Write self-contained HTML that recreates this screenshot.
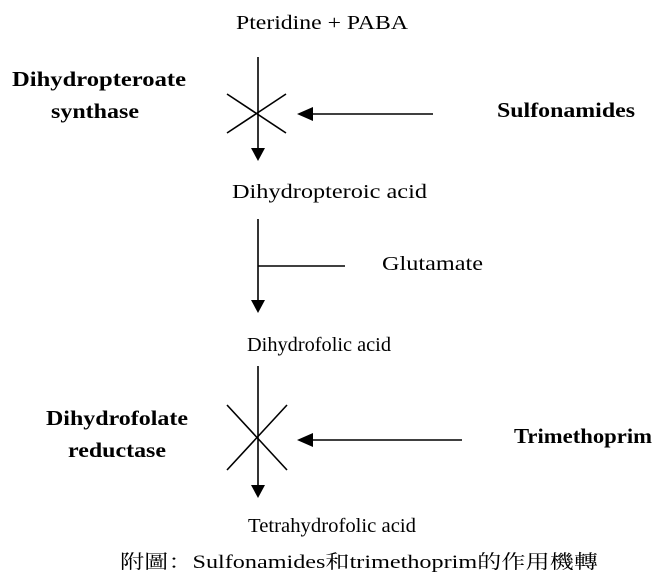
<!DOCTYPE html>
<html><head><meta charset="utf-8"><style>
html,body{margin:0;padding:0;background:#fff;}
svg{display:block;}
.r{font-family:"Liberation Serif",serif;font-size:20px;fill:#000;}
.b{font-family:"Liberation Serif",serif;font-size:21px;font-weight:bold;fill:#000;}
.c{font-family:"Liberation Serif","Noto Serif CJK SC",serif;font-size:19px;fill:#000;}
</style></head><body>
<svg width="670" height="580" viewBox="0 0 670 580" xmlns="http://www.w3.org/2000/svg">
<g stroke="#000" stroke-width="1.6" fill="none">
<line x1="258" y1="57" x2="258" y2="150"/>
<line x1="227" y1="94" x2="286" y2="133"/>
<line x1="227" y1="133" x2="286" y2="94"/>
<line x1="310" y1="114" x2="433" y2="114"/>
<line x1="258" y1="219" x2="258" y2="302"/>
<line x1="258" y1="266" x2="345" y2="266"/>
<line x1="258" y1="366" x2="258" y2="487"/>
<line x1="227" y1="405" x2="287" y2="470"/>
<line x1="227" y1="470" x2="287" y2="405"/>
<line x1="310" y1="440" x2="462" y2="440"/>
</g>
<g fill="#000">
<polygon points="251,148 265,148 258,161"/>
<polygon points="297,114 313,107 313,121"/>
<polygon points="251,300 265,300 258,313"/>
<polygon points="251,485 265,485 258,498"/>
<polygon points="297,440 313,433 313,447"/>
</g>
<text class="r" x="236" y="29" textLength="172" lengthAdjust="spacingAndGlyphs">Pteridine + PABA</text>
<text class="r" x="232" y="198" textLength="195" lengthAdjust="spacingAndGlyphs">Dihydropteroic acid</text>
<text class="r" x="382" y="270" textLength="101" lengthAdjust="spacingAndGlyphs">Glutamate</text>
<text class="r" x="247" y="351" textLength="144" lengthAdjust="spacingAndGlyphs">Dihydrofolic acid</text>
<text class="r" x="248" y="532" textLength="168" lengthAdjust="spacingAndGlyphs">Tetrahydrofolic acid</text>
<text class="b" x="12" y="86" textLength="174" lengthAdjust="spacingAndGlyphs">Dihydropteroate</text>
<text class="b" x="51" y="118" textLength="88" lengthAdjust="spacingAndGlyphs">synthase</text>
<text class="b" x="497" y="117" textLength="138" lengthAdjust="spacingAndGlyphs">Sulfonamides</text>
<text class="b" x="46" y="425" textLength="142" lengthAdjust="spacingAndGlyphs">Dihydrofolate</text>
<text class="b" x="68" y="457" textLength="98" lengthAdjust="spacingAndGlyphs">reductase</text>
<text class="b" x="514" y="443" textLength="138" lengthAdjust="spacingAndGlyphs">Trimethoprim</text>
<text class="c" x="120" y="568" textLength="478" lengthAdjust="spacingAndGlyphs">附圖：Sulfonamides和trimethoprim的作用機轉</text>
</svg>
</body></html>
